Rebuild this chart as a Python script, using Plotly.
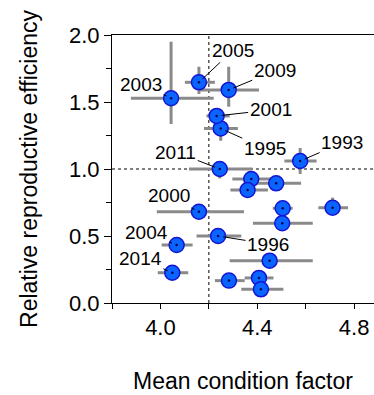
import plotly.graph_objects as go

labels = ["1993", "1995", "1996", "2000", "2001", "2003", "2004", "2005", "2009", "2011", "2014",
          "", "", "", "", "", "", "", "", "", ""]
cond = [4.577, 4.249, 4.238, 4.159, 4.232, 4.044, 4.067, 4.159, 4.282, 4.245, 4.049,
        4.375, 4.478, 4.360, 4.505, 4.711, 4.503, 4.451, 4.283, 4.407, 4.415]
eff = [1.060, 1.303, 0.500, 0.681, 1.396, 1.528, 0.433, 1.647, 1.590, 1.000, 0.226,
       0.925, 0.893, 0.843, 0.707, 0.711, 0.595, 0.316, 0.167, 0.187, 0.102]
cond_lo = [4.512, 4.180, 4.149, 3.985, 4.190, 3.878, 4.005, 4.101, 4.163, 4.118, 3.989,
           4.297, 4.382, 4.289, 4.464, 4.652, 4.382, 4.286, 4.225, 4.348, 4.334]
cond_hi = [4.645, 4.320, 4.334, 4.345, 4.286, 4.220, 4.133, 4.225, 4.407, 4.380, 4.115,
           4.478, 4.581, 4.444, 4.546, 4.775, 4.629, 4.629, 4.348, 4.467, 4.508]
eff_lo = [0.963, 1.211, 0.490, 0.671, 1.340, 1.336, 0.423, 1.560, 1.465, 0.930, 0.216,
          0.905, 0.883, 0.833, 0.680, 0.657, 0.580, 0.306, 0.130, 0.160, 0.092]
eff_hi = [1.157, 1.353, 0.510, 0.691, 1.455, 1.950, 0.443, 1.763, 1.763, 1.050, 0.236,
          0.945, 0.903, 0.853, 0.735, 0.786, 0.610, 0.326, 0.200, 0.215, 0.112]
# label offsets (pixels) for the year annotations
lab_dx = [42, 44, 50, -30, 54, -30, -30, 34, 46, -44, -32]
lab_dy = [-18, 20, 8, -16, -6, -14, -12, -32, -19, -17, -14]

ex_p = [h - c for h, c in zip(cond_hi, cond)]
ex_m = [c - l for c, l in zip(cond, cond_lo)]
ey_p = [h - c for h, c in zip(eff_hi, eff)]
ey_m = [c - l for c, l in zip(eff, eff_lo)]

font = "Liberation Sans, Arial, Helvetica, sans-serif"
fig = go.Figure()
fig.add_trace(go.Scatter(
    x=cond, y=eff, mode="markers",
    marker=dict(size=15, color="#0a64ff", line=dict(color="#1414d2", width=1.5)),
    error_x=dict(type="data", symmetric=False, array=ex_p, arrayminus=ex_m,
                 color="#8a8a8a", thickness=3, width=0),
    error_y=dict(type="data", symmetric=False, array=ey_p, arrayminus=ey_m,
                 color="#8a8a8a", thickness=3, width=0),
    showlegend=False, hoverinfo="skip"))
fig.add_trace(go.Scatter(
    x=cond, y=eff, mode="markers",
    marker=dict(size=2.5, color="#000050"), showlegend=False, hoverinfo="skip"))

for i, lab in enumerate(labels):
    if lab:
        fig.add_annotation(x=cond[i], y=eff[i], text=lab, showarrow=True,
                           ax=lab_dx[i], ay=lab_dy[i], arrowhead=0, arrowwidth=1,
                           arrowcolor="black", standoff=5,
                           font=dict(size=19, color="black", family=font))

fig.add_shape(type="line", x0=4.2, x1=4.2, y0=0, y1=2.0, xref="x", yref="y",
              line=dict(color="black", width=1, dash="dot"), layer="below")
fig.add_shape(type="line", x0=3.8, x1=4.9, y0=1.0, y1=1.0, xref="x", yref="y",
              line=dict(color="black", width=1, dash="dot"), layer="below")

fig.update_layout(
    width=374, height=395, margin=dict(l=112, r=0, t=35, b=92),
    paper_bgcolor="white", plot_bgcolor="white",
    font=dict(family=font, size=19, color="black"),
    xaxis=dict(range=[3.8, 4.882], tickvals=[4.0, 4.4, 4.8], ticktext=["4.0", "4.4", "4.8"],
               tickfont=dict(size=22),
               ticks="outside", ticklen=5, tickwidth=1, tickcolor="black",
               minor=dict(tickvals=[3.8, 4.2, 4.6], ticks="outside", ticklen=5, tickcolor="black"),
               showline=True, linecolor="black", linewidth=1, mirror=True,
               showgrid=False, zeroline=False,
               title=dict(text="Mean condition factor", standoff=33)),
    yaxis=dict(range=[0, 2.0], tickvals=[0, 0.5, 1.0, 1.5, 2.0],
               ticktext=["0.0", "0.5", "1.0", "1.5", "2.0"],
               tickfont=dict(size=22),
               ticks="outside", ticklen=7, tickwidth=1, tickcolor="black",
               minor=dict(tickvals=[0.25, 0.75, 1.25, 1.75], ticks="outside", ticklen=5, tickcolor="black"),
               showline=True, linecolor="black", linewidth=1,
               showgrid=False, zeroline=False,
               title=dict(text="Relative reproductive efficiency", standoff=24)),
)
fig.write_html("out.html")
